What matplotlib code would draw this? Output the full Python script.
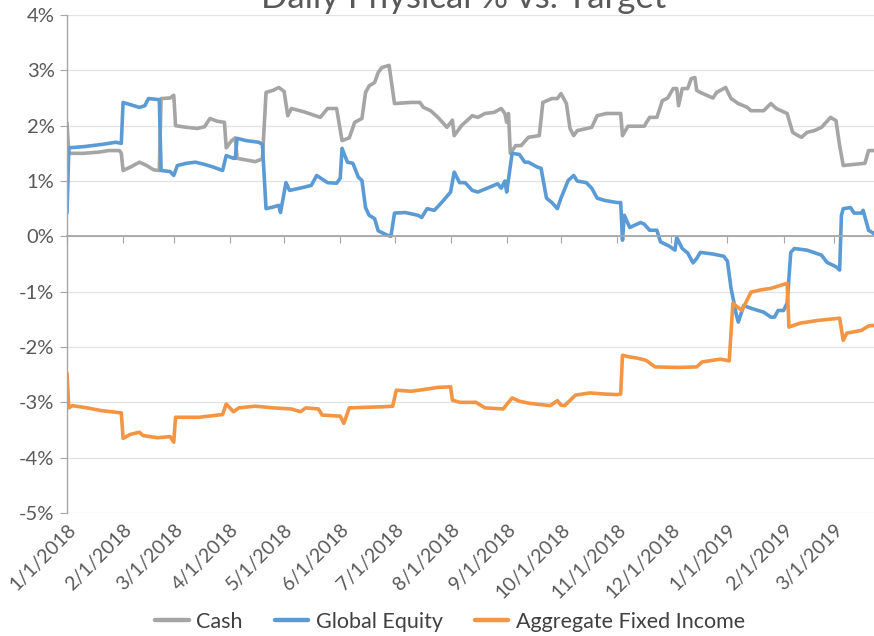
import matplotlib
matplotlib.use("Agg")
import matplotlib.pyplot as plt
import pandas as pd

# ---------------- data ----------------
cash_dates = ["2018-01-01","2018-01-02","2018-01-10","2018-01-18","2018-01-24","2018-01-30","2018-01-31",
 "2018-02-01","2018-02-05","2018-02-10","2018-02-14","2018-02-18","2018-02-21","2018-02-22","2018-02-27",
 "2018-03-01","2018-03-02","2018-03-08","2018-03-14","2018-03-18","2018-03-21","2018-03-25","2018-03-29","2018-03-30",
 "2018-04-02","2018-04-04","2018-04-05","2018-04-10","2018-04-15","2018-04-19","2018-04-21","2018-04-25","2018-04-28",
 "2018-05-01","2018-05-03","2018-05-05","2018-05-12","2018-05-21","2018-05-25","2018-05-30",
 "2018-06-02","2018-06-06","2018-06-09","2018-06-13","2018-06-15","2018-06-17","2018-06-20","2018-06-22","2018-06-24","2018-06-28",
 "2018-07-01","2018-07-10","2018-07-15","2018-07-17","2018-07-21","2018-07-25","2018-07-30",
 "2018-08-02","2018-08-03","2018-08-07","2018-08-09","2018-08-13","2018-08-16","2018-08-20","2018-08-25","2018-08-29","2018-08-31",
 "2018-09-01","2018-09-02","2018-09-03","2018-09-06","2018-09-09","2018-09-13","2018-09-19","2018-09-21","2018-09-26","2018-09-29",
 "2018-10-01","2018-10-04","2018-10-06","2018-10-08","2018-10-10","2018-10-18","2018-10-21","2018-10-26",
 "2018-11-03","2018-11-04","2018-11-07","2018-11-16","2018-11-19","2018-11-23","2018-11-26","2018-11-29",
 "2018-12-02","2018-12-04","2018-12-05","2018-12-07","2018-12-10","2018-12-12","2018-12-14","2018-12-15","2018-12-17","2018-12-24","2018-12-26","2018-12-31",
 "2019-01-03","2019-01-07","2019-01-12","2019-01-14","2019-01-21","2019-01-25","2019-01-28",
 "2019-02-03","2019-02-06","2019-02-09","2019-02-11","2019-02-14","2019-02-18","2019-02-22","2019-02-27",
 "2019-03-02","2019-03-04","2019-03-06","2019-03-12","2019-03-18","2019-03-20","2019-03-23"]
cash_values = [2.05,1.50,1.50,1.52,1.55,1.55,1.50,
 1.19,1.25,1.34,1.28,1.20,1.19,2.49,2.50,
 2.55,2.00,1.97,1.95,1.98,2.13,2.08,2.06,1.60,
 1.73,1.78,1.41,1.38,1.35,1.40,2.60,2.64,2.69,
 2.62,2.18,2.31,2.25,2.15,2.31,2.31,
 1.73,1.78,2.06,2.13,2.60,2.72,2.78,2.96,3.05,3.09,
 2.40,2.42,2.42,2.33,2.27,2.15,1.97,
 2.10,1.82,2.00,2.06,2.18,2.15,2.22,2.24,2.31,2.22,
 2.06,2.22,1.50,1.64,1.64,1.79,1.82,2.42,2.49,2.49,
 2.58,2.40,1.95,1.82,1.91,1.97,2.18,2.22,
 2.22,1.82,1.99,1.99,2.15,2.15,2.45,2.50,
 2.67,2.67,2.36,2.67,2.67,2.85,2.87,2.64,2.60,2.50,2.60,2.69,
 2.49,2.40,2.33,2.27,2.27,2.40,2.31,
 2.22,1.88,1.82,1.79,1.88,1.91,1.97,2.15,
 2.09,1.64,1.28,1.30,1.32,1.55,1.55]

equity_dates = ["2018-01-01","2018-01-02","2018-01-10","2018-01-20","2018-01-28","2018-01-31",
 "2018-02-01","2018-02-05","2018-02-10","2018-02-13","2018-02-15","2018-02-21","2018-02-22","2018-02-27",
 "2018-03-01","2018-03-03","2018-03-08","2018-03-13","2018-03-18","2018-03-23","2018-03-28","2018-03-30",
 "2018-04-03","2018-04-04","2018-04-05","2018-04-10","2018-04-17","2018-04-19","2018-04-21","2018-04-25","2018-04-28","2018-04-29",
 "2018-05-02","2018-05-04","2018-05-11","2018-05-16","2018-05-19","2018-05-25","2018-05-30",
 "2018-06-01","2018-06-02","2018-06-05","2018-06-08","2018-06-11","2018-06-13","2018-06-15","2018-06-17","2018-06-20","2018-06-22","2018-06-27","2018-06-29",
 "2018-07-01","2018-07-07","2018-07-14","2018-07-16","2018-07-19","2018-07-23","2018-07-27",
 "2018-08-01","2018-08-03","2018-08-06","2018-08-09","2018-08-13","2018-08-16","2018-08-22","2018-08-27","2018-08-29","2018-08-31",
 "2018-09-01","2018-09-04","2018-09-08","2018-09-11","2018-09-13","2018-09-18","2018-09-20","2018-09-23","2018-09-26","2018-09-29",
 "2018-10-01","2018-10-05","2018-10-08","2018-10-10","2018-10-15","2018-10-18","2018-10-21","2018-10-25",
 "2018-11-01","2018-11-03","2018-11-04","2018-11-05","2018-11-08","2018-11-14","2018-11-16","2018-11-19","2018-11-23","2018-11-25","2018-11-30",
 "2018-12-03","2018-12-04","2018-12-07","2018-12-10","2018-12-13","2018-12-15","2018-12-17","2018-12-24","2018-12-30",
 "2019-01-01","2019-01-03","2019-01-06","2019-01-07","2019-01-10","2019-01-14","2019-01-21","2019-01-25","2019-01-27","2019-01-29",
 "2019-02-01","2019-02-03","2019-02-05","2019-02-07","2019-02-14","2019-02-22","2019-02-25",
 "2019-03-02","2019-03-04","2019-03-05","2019-03-06","2019-03-10","2019-03-12","2019-03-16","2019-03-17","2019-03-20","2019-03-23"]
equity_values = [0.42,1.60,1.62,1.66,1.70,1.68,
 2.42,2.38,2.33,2.36,2.49,2.47,1.19,1.17,
 1.10,1.28,1.32,1.34,1.30,1.25,1.19,1.46,
 1.41,1.41,1.77,1.73,1.70,1.66,0.50,0.53,0.56,0.43,
 0.97,0.83,0.88,0.92,1.10,0.97,0.96,
 1.05,1.59,1.34,1.32,1.07,1.01,0.52,0.38,0.32,0.10,0.02,0.00,
 0.42,0.43,0.38,0.34,0.50,0.47,0.61,
 0.80,1.16,0.97,0.97,0.83,0.80,0.88,0.95,0.87,1.00,
 0.80,1.50,1.48,1.34,1.34,1.25,1.23,0.69,0.61,0.50,
 0.69,1.01,1.10,1.00,0.97,0.87,0.69,0.65,
 0.61,0.61,-0.07,0.38,0.16,0.25,0.22,0.11,0.11,-0.10,-0.18,
 -0.25,-0.02,-0.22,-0.30,-0.48,-0.40,-0.29,-0.32,-0.36,
 -0.45,-0.94,-1.43,-1.55,-1.25,-1.30,-1.37,-1.46,-1.46,-1.34,
 -1.34,-1.21,-0.29,-0.22,-0.25,-0.34,-0.47,
 -0.55,-0.61,0.38,0.50,0.52,0.42,0.42,0.47,0.11,0.05]

fixed_dates = ["2018-01-01","2018-01-02","2018-01-04","2018-01-12","2018-01-20","2018-01-31",
 "2018-02-01","2018-02-05","2018-02-10","2018-02-12","2018-02-20","2018-02-27",
 "2018-03-01","2018-03-02","2018-03-15","2018-03-28","2018-03-30",
 "2018-04-03","2018-04-06","2018-04-15","2018-04-25",
 "2018-05-05","2018-05-10","2018-05-13","2018-05-20","2018-05-22",
 "2018-06-01","2018-06-03","2018-06-06","2018-06-15","2018-06-25","2018-06-30",
 "2018-07-02","2018-07-10","2018-07-17","2018-07-25",
 "2018-08-01","2018-08-02","2018-08-06","2018-08-15","2018-08-20","2018-08-30",
 "2018-09-04","2018-09-08","2018-09-14","2018-09-25","2018-09-29",
 "2018-10-01","2018-10-03","2018-10-09","2018-10-17","2018-10-25",
 "2018-11-01","2018-11-03","2018-11-04","2018-11-08","2018-11-12","2018-11-17","2018-11-22",
 "2018-12-05","2018-12-15","2018-12-18","2018-12-28",
 "2019-01-02","2019-01-04","2019-01-09","2019-01-14","2019-01-19","2019-01-25",
 "2019-02-03","2019-02-04","2019-02-10","2019-02-20",
 "2019-03-04","2019-03-06","2019-03-08","2019-03-16","2019-03-20","2019-03-23"]
fixed_values = [-2.47,-3.10,-3.06,-3.10,-3.15,-3.19,
 -3.65,-3.58,-3.54,-3.60,-3.64,-3.62,
 -3.72,-3.27,-3.27,-3.22,-3.03,
 -3.17,-3.10,-3.07,-3.10,
 -3.12,-3.17,-3.10,-3.12,-3.23,
 -3.25,-3.38,-3.10,-3.09,-3.08,-3.07,
 -2.78,-2.80,-2.77,-2.73,
 -2.72,-2.96,-3.00,-3.00,-3.10,-3.12,
 -2.92,-2.98,-3.02,-3.06,-2.97,
 -3.05,-3.06,-2.87,-2.83,-2.85,
 -2.86,-2.85,-2.15,-2.18,-2.20,-2.24,-2.36,
 -2.37,-2.36,-2.27,-2.22,
 -2.25,-1.21,-1.34,-1.01,-0.97,-0.94,
 -0.85,-1.64,-1.57,-1.52,
 -1.48,-1.88,-1.75,-1.70,-1.62,-1.61]

series_names = ["Cash", "Global Equity", "Aggregate Fixed Income"]
series_colors = ["#A5A5A5", "#5B9BD5", "#F39542"]
month_ticks = pd.date_range("2018-01-01", "2019-03-01", freq="MS")
month_labels = [f"{d.month}/{d.day}/{d.year}" for d in month_ticks]
y_ticks = [4, 3, 2, 1, 0, -1, -2, -3, -4, -5]
y_labels = [f"{v}%" for v in y_ticks]
title = "Daily Physical % vs. Target"

# ---------------- plot ----------------
FONT = "Lato"
TXT = "#595959"
fig = plt.figure(figsize=(8.74, 6.36), dpi=100)
ax = fig.add_axes([67/874, 1 - 513/636, 1 - 67/874, (513 - 15)/636])

for d, v, name, c in zip([cash_dates, equity_dates, fixed_dates],
                         [cash_values, equity_values, fixed_values],
                         series_names, series_colors):
    ax.plot(pd.to_datetime(d), v, color=c, lw=2.6, label=name,
            solid_joinstyle="round", solid_capstyle="round")

ax.set_xlim(pd.Timestamp("2018-01-01"), pd.Timestamp("2019-03-23"))
ax.set_ylim(-5, 4)
ax.set_yticks(y_ticks)
ax.set_yticklabels(y_labels, fontsize=14.5, color=TXT, family=FONT)
ax.grid(axis="y", color="#E3E3E3", lw=0.9)
ax.set_axisbelow(True)

for s in ["top", "right"]:
    ax.spines[s].set_visible(False)
ax.spines["left"].set_color("#A6A6A6")
ax.spines["left"].set_linewidth(1.0)
ax.spines["bottom"].set_position(("data", 0))
ax.spines["bottom"].set_color("#A6A6A6")
ax.spines["bottom"].set_linewidth(1.3)
ax.tick_params(axis="y", direction="out", length=5, color="#A6A6A6", pad=4)
ax.set_xticks(month_ticks)
ax.tick_params(axis="x", direction="out", length=5, color="#A6A6A6", labelbottom=False)

sec = ax.secondary_xaxis(0.0)
sec.set_xticks(month_ticks)
sec.set_xticklabels(month_labels, rotation=45, ha="right", rotation_mode="anchor",
                    fontsize=14, color=TXT, family=FONT)
sec.tick_params(axis="x", length=0, pad=6)
sec.spines["bottom"].set_visible(False)

fig.text(0.531, 1.0 - 8/636, title, ha="center", va="baseline", fontsize=25,
         color=TXT, family=FONT)

leg = fig.legend(loc="center", bbox_to_anchor=(0.515, 14/636), ncol=3, frameon=False,
                 prop={"family": FONT, "size": 15.5}, handlelength=1.55,
                 handletextpad=0.35, columnspacing=1.5)
for t in leg.get_texts():
    t.set_color("#404040")
for h in leg.get_lines():
    h.set_linewidth(3.2)

fig.savefig("out.png", dpi=100)
